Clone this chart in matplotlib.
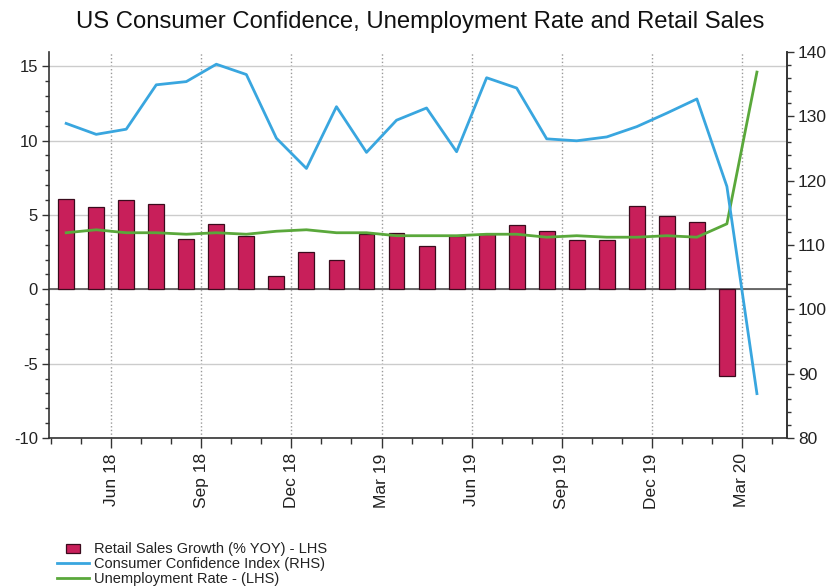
import numpy as np
import matplotlib.pyplot as plt
from matplotlib.patches import Rectangle
from matplotlib.lines import Line2D
from matplotlib.legend_handler import HandlerPatch
from matplotlib.ticker import MultipleLocator, FixedLocator

plt.rcParams['font.family'] = ['Liberation Sans', 'DejaVu Sans']
plt.rcParams['axes.unicode_minus'] = False

# Monthly observations, May 2018 - Apr 2020
months = ['May 18', 'Jun 18', 'Jul 18', 'Aug 18', 'Sep 18', 'Oct 18', 'Nov 18', 'Dec 18',
          'Jan 19', 'Feb 19', 'Mar 19', 'Apr 19', 'May 19', 'Jun 19', 'Jul 19', 'Aug 19',
          'Sep 19', 'Oct 19', 'Nov 19', 'Dec 19', 'Jan 20', 'Feb 20', 'Mar 20', 'Apr 20']

# Retail sales growth (% YoY), available through Mar 20
retail_sales = [6.1, 5.5, 6.0, 5.7, 3.4, 4.4, 3.6, 0.9, 2.5, 2.0, 3.7, 3.8,
                2.9, 3.6, 3.7, 4.3, 3.9, 3.3, 3.3, 5.6, 4.9, 4.5, -5.8]

# Conference Board consumer confidence index (right axis)
confidence = [128.9, 127.2, 128.0, 134.9, 135.4, 138.1, 136.5, 126.6,
              121.9, 131.5, 124.4, 129.4, 131.3, 124.5, 136.0, 134.4,
              126.5, 126.2, 126.8, 128.4, 130.5, 132.7, 119.1, 86.9]

# Unemployment rate (%)
unemployment = [3.8, 4.0, 3.8, 3.8, 3.7, 3.8, 3.7, 3.9, 4.0, 3.8, 3.8, 3.6,
                3.6, 3.6, 3.7, 3.7, 3.5, 3.6, 3.5, 3.5, 3.6, 3.5, 4.4, 14.6]

tick_months = ['Jun 18', 'Sep 18', 'Dec 18', 'Mar 19', 'Jun 19', 'Sep 19', 'Dec 19', 'Mar 20']

bar_color = '#c81f5a'
bar_edge = '#3a0b1d'
blue = '#39a6df'
green = '#5aa83b'
text_color = '#222222'

x = np.arange(len(months))
# ticks sit at the month-end boundary
tick_pos = [months.index(m) + 0.5 for m in tick_months]

fig = plt.figure(figsize=(8.34, 5.87), dpi=100)
ax = fig.add_axes([0.0588, 0.2538, 0.8848, 0.6576])

ax.bar(x[:len(retail_sales)], retail_sales, width=0.53, color=bar_color,
       edgecolor=bar_edge, linewidth=0.9, zorder=3)
ax.plot(x, unemployment, color=green, lw=2, zorder=4)
ax.axhline(0, color='#555555', lw=1.2, zorder=2)

ax2 = ax.twinx()
ax2.plot(x, confidence, color=blue, lw=2)

ax.set_xlim(-0.57, 24.0)
ax.set_ylim(-10, 15.95)
ax2.set_ylim(80, 140)

# gridlines
ax.set_yticks([-10, -5, 0, 5, 10, 15])
ax.yaxis.set_minor_locator(MultipleLocator(1))
ax.grid(axis='y', which='major', color='#cccccc', lw=1, zorder=0)
ax.set_xticks(tick_pos)
ax.set_xticklabels(tick_months, rotation=90)
ax.xaxis.set_minor_locator(FixedLocator([p for p in np.arange(-0.5, 24, 1) if p not in tick_pos]))
ax.grid(axis='x', which='major', color='#999999', lw=1, linestyle=':', zorder=0)
ax.set_axisbelow(True)

ax2.yaxis.set_major_locator(MultipleLocator(10))
ax2.yaxis.set_minor_locator(MultipleLocator(2))

for a in (ax, ax2):
    a.spines['top'].set_visible(False)
    for s in a.spines.values():
        s.set_color('#333333')
        s.set_linewidth(1.2)
ax2.spines['left'].set_visible(False)
ax2.spines['bottom'].set_visible(False)

ax.tick_params(axis='y', which='major', length=5, width=1, labelsize=12,
               colors='#333333', labelcolor=text_color, pad=3)
ax.tick_params(axis='y', which='minor', length=3, width=1, colors='#333333')
ax.tick_params(axis='x', which='major', length=7, width=1, labelsize=12.5,
               colors='#333333', labelcolor=text_color, pad=4)
ax.tick_params(axis='x', which='minor', length=4, width=1, colors='#333333')
ax2.tick_params(axis='y', which='major', length=5, width=1, labelsize=12.5,
                colors='#333333', labelcolor=text_color, pad=3)
ax2.tick_params(axis='y', which='minor', length=3, width=1, colors='#333333')

fig.text(0.504, 0.963, 'US Consumer Confidence, Unemployment Rate and Retail Sales',
         ha='center', va='center', fontsize=17.2, color='#111111')


def small_box(legend, orig_handle, xdescent, ydescent, width, height, fontsize):
    w = width * 0.42
    h = height * 0.85
    return Rectangle((-xdescent + (width - w) / 2, -ydescent + (height - h) / 2), w, h)


handles = [Rectangle((0, 0), 1, 1, facecolor=bar_color, edgecolor=bar_edge, linewidth=0.9),
           Line2D([], [], color=blue, lw=2),
           Line2D([], [], color=green, lw=2)]
labels = ['Retail Sales Growth (% YOY) - LHS',
          'Consumer Confidence Index (RHS)',
          'Unemployment Rate - (LHS)']
fig.legend(handles, labels, loc='lower left', bbox_to_anchor=(0.058, -0.013),
           frameon=False, fontsize=10.5, handlelength=2.2, handletextpad=0.35,
           labelspacing=0.05, borderpad=0.1, labelcolor=text_color,
           handler_map={Rectangle: HandlerPatch(patch_func=small_box)})

fig.savefig('out.png', dpi=100)
